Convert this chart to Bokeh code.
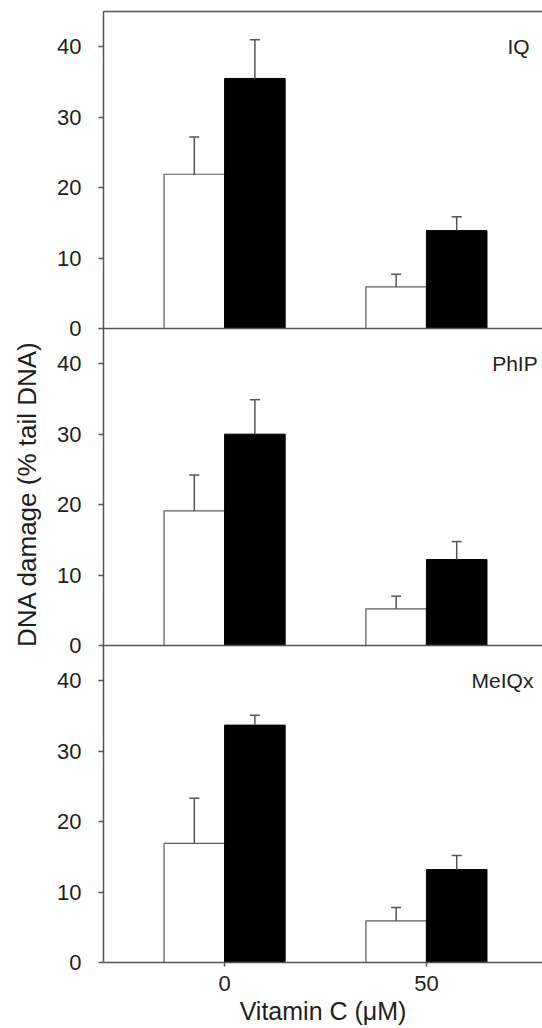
import math
from bokeh.plotting import figure
from bokeh.layouts import row
from bokeh.models import (Range1d, FixedTicker, Span, Label, Whisker, TeeHead,
                          ColumnDataSource, LinearAxis)
from bokeh.embed import file_html
from bokeh.resources import INLINE

# ---- data ----
vitamin_c = ["0", "50"]                     # x categories (µM)
panel_names = ["IQ", "PhIP", "MeIQx"]       # top to bottom

iq_white = [21.9, 5.9]
iq_white_err = [5.3, 1.8]
iq_black = [35.5, 13.9]
iq_black_err = [5.5, 1.95]

phip_white = [19.1, 5.2]
phip_white_err = [5.1, 1.8]
phip_black = [30.0, 12.2]
phip_black_err = [4.9, 2.55]

meiqx_white = [16.9, 5.9]
meiqx_white_err = [6.4, 1.9]
meiqx_black = [33.7, 13.2]
meiqx_black_err = [1.4, 2.0]

y_ticks = [0, 10, 20, 30, 40]
panel_span = 45                              # each panel's y range: 0..45

AXIS = "#555555"
TEXT = "#1e1e1e"
FONT = "Liberation Sans"

panels = [
    (panel_names[0], 1.511, iq_white, iq_white_err, iq_black, iq_black_err),
    (panel_names[1], 1.551, phip_white, phip_white_err, phip_black, phip_black_err),
    (panel_names[2], 1.530, meiqx_white, meiqx_white_err, meiqx_black, meiqx_black_err),
]
n_panels = len(panels)

H = 1027
p = figure(width=497, height=H,
           x_range=Range1d(-0.6, 1.575),
           y_range=Range1d(0, panel_span * n_panels),
           output_backend="svg", toolbar_location=None,
           min_border_left=58, min_border_right=0,
           min_border_top=11, min_border_bottom=63)
p.outline_line_color = None
p.grid.visible = False

pos = list(range(len(vitamin_c)))
wx = [x - 0.15 for x in pos]
bx = [x + 0.15 for x in pos]

tick_vals = []
tick_over = {}
for k, (name, label_x, white, white_err, black, black_err) in enumerate(panels):
    off = panel_span * (n_panels - 1 - k)
    p.vbar(x=wx, width=0.3, top=[off + v for v in white], bottom=off,
           fill_color="white", line_color="#5a5a5a", line_width=1.2)
    p.vbar(x=bx, width=0.3, top=[off + v for v in black], bottom=off,
           fill_color="black", line_color="black", line_width=1.0)
    for xs, vals, errs in ((wx, white, white_err), (bx, black, black_err)):
        src = ColumnDataSource(dict(
            x=xs, lower=[off + v for v in vals],
            upper=[off + v + e for v, e in zip(vals, errs)]))
        p.add_layout(Whisker(base="x", lower="lower", upper="upper", source=src,
                             lower_head=None,
                             upper_head=TeeHead(size=10, line_color=AXIS,
                                                line_width=1.5),
                             line_color=AXIS, line_width=1.5, level="overlay"))
    if off > 0:
        p.add_layout(Span(location=off, dimension="width", line_color=AXIS,
                          line_width=1.5))
    for t in y_ticks:
        tick_vals.append(off + t)
        tick_over[off + t] = str(t)
    p.add_layout(Label(x=label_x, y=off + 40, text=name, text_align="right",
                       text_baseline="middle", text_font=FONT,
                       text_font_size="21px", text_color=TEXT))

# left axis
ax = p.yaxis[0]
ax.ticker = FixedTicker(ticks=tick_vals)
ax.major_label_overrides = tick_over
ax.major_tick_out = 5
ax.major_tick_in = 0
ax.minor_tick_out = 0
ax.minor_tick_in = 0
ax.axis_line_color = AXIS
ax.axis_line_width = 1.5
ax.major_tick_line_color = AXIS
ax.major_tick_line_width = 1.5
ax.major_label_text_font = FONT
ax.major_label_text_font_size = "22px"
ax.major_label_text_color = TEXT
ax.major_label_standoff = 17

# bottom axis
xa = p.xaxis[0]
xa.ticker = FixedTicker(ticks=pos)
xa.major_label_overrides = {i: c for i, c in zip(pos, vitamin_c)}
xa.major_tick_out = 4
xa.major_tick_in = 0
xa.minor_tick_out = 0
xa.minor_tick_in = 0
xa.axis_line_color = AXIS
xa.axis_line_width = 1.5
xa.major_tick_line_color = AXIS
xa.major_tick_line_width = 1.5
xa.major_label_text_font = FONT
xa.major_label_text_font_size = "22px"
xa.major_label_text_color = TEXT
xa.major_label_standoff = 9
xa.axis_label = "Vitamin C (\u03bcM)"
xa.axis_label_text_font = FONT
xa.axis_label_text_font_size = "25px"
xa.axis_label_text_font_style = "normal"
xa.axis_label_text_color = TEXT
xa.axis_label_standoff = 3

# top border (axis line only)
top = LinearAxis(ticker=FixedTicker(ticks=[]), major_label_text_font_size="0px",
                 major_tick_out=0, major_tick_in=0, minor_tick_out=0,
                 minor_tick_in=0, axis_line_color=AXIS, axis_line_width=1.5)
p.add_layout(top, "above")

# y-axis title in a narrow strip figure on the left
lf = figure(width=45, height=H, x_range=Range1d(0, 45), y_range=Range1d(0, H),
            x_axis_location=None, y_axis_location=None,
            output_backend="svg", toolbar_location=None,
            min_border_left=0, min_border_right=0,
            min_border_top=0, min_border_bottom=0)
lf.outline_line_color = None
lf.grid.visible = False
lf.add_layout(Label(x=26.0, y=H - 521.0, text="DNA damage (% tail DNA)",
                    angle=math.pi / 2, text_align="center",
                    text_baseline="middle", text_font=FONT,
                    text_font_size="26px", text_color=TEXT))

layout = row(lf, p, spacing=0)
open("out.html", "w").write(file_html(layout, INLINE))
